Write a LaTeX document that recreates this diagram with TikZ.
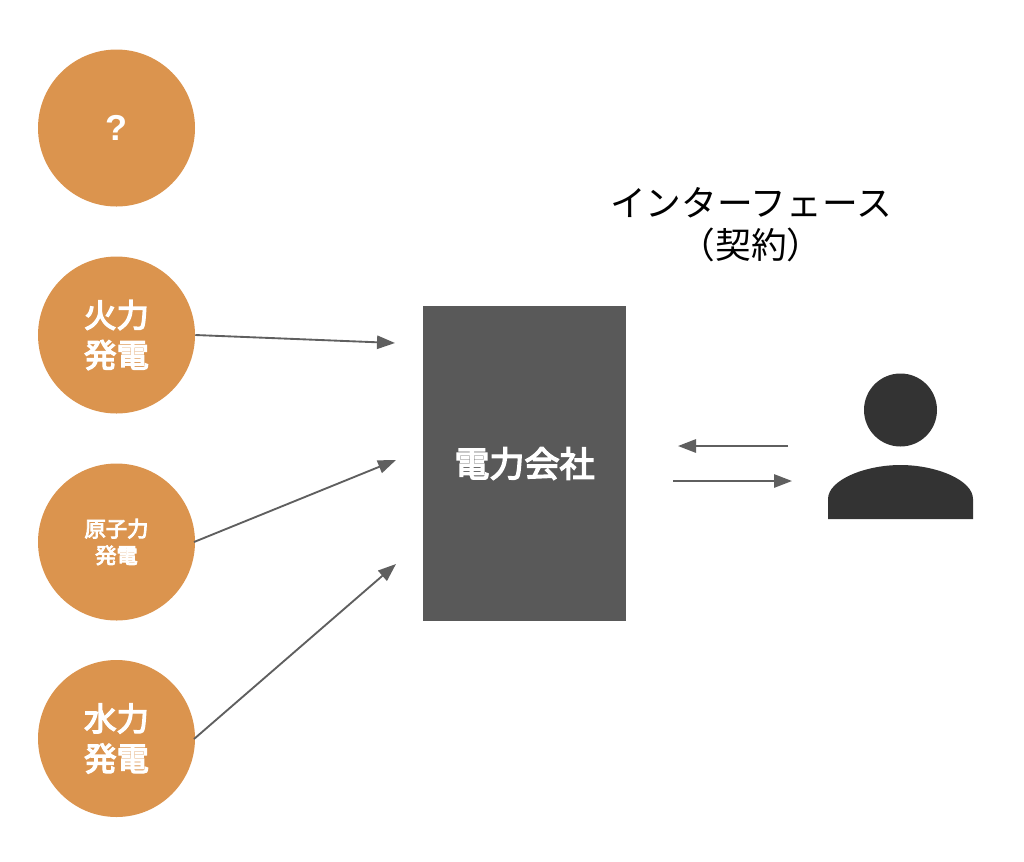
\documentclass[tikz,border=0pt]{standalone}
\usepackage{fontspec}
\usepackage{xcolor}
\setmainfont{Noto Sans CJK JP}
\newfontfamily\mediumfont{Noto Sans CJK JP}[FakeBold=4]
\newfontfamily\latinfont{Liberation Sans}[BoldFont=* Bold]
\usetikzlibrary{arrows.meta}

\definecolor{plantOrange}{HTML}{DB944E}
\definecolor{companyGray}{HTML}{595959}
\definecolor{personGray}{HTML}{333333}
\definecolor{arrowGray}{HTML}{5F5F5F}

\begin{document}
\begin{tikzpicture}[
        x=0.75pt,
        y=-0.75pt,
        plant/.style={circle, fill=plantOrange, minimum size=117.75pt, inner sep=0pt, text=white, align=center, font=\fontsize{24.3}{30}\mediumfont},
        smallPlant/.style={plant, font=\fontsize{16}{20}\mediumfont},
        company/.style={rectangle, fill=companyGray, minimum width=152.25pt, minimum height=236.25pt, inner sep=0pt, text=white, font=\fontsize{26.3}{32}\mediumfont},
        arrow/.style={-{Triangle[length=13.5pt, width=10pt]}, line width=1.4pt, draw=arrowGray}
    ]
        \useasboundingbox (0,0) rectangle (1024,861);

        % ========== POWER PLANTS (Left Column) ==========
        \node[plant, font=\fontsize{27}{30}\latinfont\bfseries] (unknown) at (116.5,128) {?};
        \node[plant] (thermal) at (116.5,335) {火力\\発電};
        \node[smallPlant] (nuclear) at (116.5,542) {原子力\\発電};
        \node[plant] (hydro) at (116.5,738.5) {水力\\発電};

        % ========== POWER COMPANY (Middle) ==========
        \node[company] (powerCompany) at (524.5,463.5) {電力会社};

        % ========== INTERFACE LABEL ==========
        \node[font=\fontsize{26.8}{31}\selectfont, align=center] (interfaceLabel) at (751,224.5) {インターフェース\\（契約）};

        % ========== PERSON (Right Side) ==========
        \node[circle, fill=personGray, minimum size=54.75pt, inner sep=0pt] (personHead) at (900.5,410) {};
        \fill[personGray] (828,519) -- (828,499) .. controls (828,480) and (865,465) .. (900.5,465)
            .. controls (936,465) and (973,480) .. (973,499) -- (973,519) -- cycle;

        % Free ends of the arrows
        \coordinate (thermalEnd) at (395,343);
        \coordinate (nuclearStart) at (194,542);
        \coordinate (nuclearEnd) at (396,460);
        \coordinate (hydroStart) at (194,739);
        \coordinate (hydroEnd) at (396,564);
        \coordinate (backStart) at (788,446);
        \coordinate (backEnd) at (678,446);
        \coordinate (forthStart) at (673,481);
        \coordinate (forthEnd) at (792,481);

        % Plants to company
        \draw[arrow] (thermal.east) -- (thermalEnd);
        \draw[arrow] (nuclearStart) -- (nuclearEnd);
        \draw[arrow] (hydroStart) -- (hydroEnd);

        % Company and person
        \draw[arrow] (backStart) -- (backEnd);
        \draw[arrow] (forthStart) -- (forthEnd);

    \end{tikzpicture}
\end{document}
